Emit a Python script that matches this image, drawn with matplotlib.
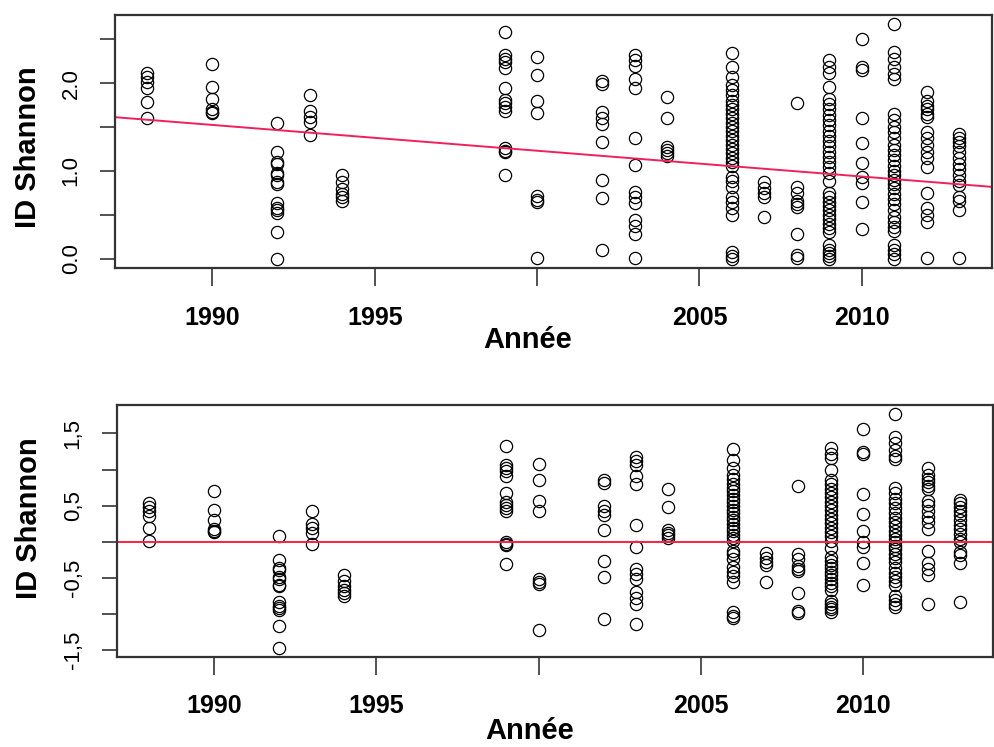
import numpy as np
import matplotlib
matplotlib.use("Agg")
import matplotlib.pyplot as plt

plt.rcParams['font.family'] = ['Liberation Sans', 'DejaVu Sans']

# Shannon diversity index per year
years = [1988, 1990, 1992, 1993, 1994, 1999, 2000, 2002, 2003, 2004,
         2006, 2007, 2008, 2009, 2010, 2011, 2012, 2013]
shannon = [
    [2.12, 2.07, 2.01, 1.94, 1.78, 1.60],
    [2.22, 1.96, 1.82, 1.70, 1.67, 1.66],
    [1.55, 1.21, 1.10, 1.08, 0.98, 0.95, 0.87, 0.85, 0.63, 0.58, 0.55, 0.52, 0.30, 0.0],
    [1.86, 1.68, 1.62, 1.56, 1.41],
    [0.95, 0.87, 0.79, 0.74, 0.70, 0.66],
    [2.58, 2.32, 2.28, 2.24, 2.17, 1.94, 1.81, 1.77, 1.73, 1.68, 1.26, 1.23, 1.21, 0.95],
    [2.30, 2.09, 1.80, 1.66, 0.71, 0.67, 0.64, 0.01],
    [2.02, 1.99, 1.67, 1.60, 1.54, 1.33, 0.90, 0.69, 0.10],
    [2.32, 2.26, 2.20, 2.05, 1.94, 1.38, 1.07, 0.76, 0.70, 0.63, 0.44, 0.37, 0.28, 0.01],
    [1.84, 1.60, 1.27, 1.24, 1.20, 1.17],
    [2.34, 2.18, 2.07, 1.98, 1.92, 1.86, 1.80, 1.75, 1.70, 1.65, 1.60, 1.55, 1.50, 1.45,
     1.40, 1.35, 1.30, 1.25, 1.20, 1.15, 1.10, 1.06, 0.93, 0.88, 0.82, 0.70, 0.64, 0.58,
     0.50, 0.08, 0.03, 0.0],
    [0.87, 0.80, 0.75, 0.70, 0.47],
    [1.77, 0.82, 0.75, 0.66, 0.62, 0.59, 0.28, 0.04, 0.01],
    [2.26, 2.18, 2.12, 1.96, 1.82, 1.76, 1.70, 1.64, 1.58, 1.52, 1.46, 1.40, 1.34, 1.28,
     1.22, 1.16, 1.10, 1.04, 0.98, 0.88, 0.75, 0.70, 0.65, 0.60, 0.55, 0.50, 0.45, 0.40,
     0.35, 0.30, 0.15, 0.10, 0.06, 0.03, 0.0],
    [2.50, 2.18, 2.15, 1.60, 1.32, 1.09, 0.93, 0.86, 0.64, 0.34],
    [2.67, 2.35, 2.27, 2.18, 2.10, 2.05, 1.65, 1.58, 1.50, 1.44, 1.38, 1.30, 1.24, 1.18,
     1.12, 1.06, 1.00, 0.95, 0.90, 0.85, 0.80, 0.74, 0.68, 0.62, 0.55, 0.48, 0.42, 0.36,
     0.31, 0.15, 0.10, 0.05, 0.0],
    [1.90, 1.80, 1.74, 1.70, 1.65, 1.61, 1.44, 1.38, 1.30, 1.22, 1.15, 1.05, 0.75, 0.58,
     0.50, 0.42, 0.01],
    [1.42, 1.38, 1.33, 1.28, 1.22, 1.15, 1.08, 1.02, 0.95, 0.88, 0.84, 0.70, 0.66, 0.55, 0.01],
]

# regression line (value at 2000 and slope per year)
fitAt2000 = 1.23
fitSlope = -0.0294

xTicks = [1990, 1995, 2000, 2005, 2010]
xTickLabels = ['1990', '1995', '', '2005', '2010']
topYTicks = [0.0, 0.5, 1.0, 1.5, 2.0, 2.5]
topYTickLabels = ['0.0', '', '1.0', '', '2.0', '']
botYTicks = [-1.5, -1.0, -0.5, 0.0, 0.5, 1.0, 1.5]
botYTickLabels = ['-1,5', '', '-0,5', '', '0,5', '', '1,5']

xs = np.concatenate([[yr] * len(v) for yr, v in zip(years, shannon)])
ys = np.concatenate(shannon)
fitted = fitAt2000 + fitSlope * (xs - 2000)
resid = ys - fitted


def style_panel(ax, yTicks, yTickLabels, labelY):
    ax.margins(0.04)
    for s in ax.spines.values():
        s.set_linewidth(1.6)
        s.set_color('#333333')
    ax.set_xticks(xTicks)
    ax.set_xticklabels(xTickLabels, fontsize=18, fontweight='bold')
    ax.set_yticks(yTicks)
    ax.set_yticklabels(yTickLabels, fontsize=16)
    ax.tick_params(axis='x', length=13, width=1.2, pad=14, color='#333333')
    ax.tick_params(axis='y', length=11, width=1.2, pad=13, color='#333333', labelrotation=90)
    for lbl in ax.get_yticklabels():
        lbl.set_va('center')
    ax.set_xlabel('Année', fontsize=21, fontweight='bold')
    ax.set_ylabel('ID Shannon', fontsize=21, fontweight='bold')
    ax.xaxis.label.set_va('center')
    ax.yaxis.label.set_va('center')
    ax.xaxis.set_label_coords(0.471, labelY)
    ax.yaxis.set_label_coords(-0.099, 0.5)


fig = plt.figure(figsize=(9.94, 7.47), dpi=100)
ax1 = fig.add_axes([0.1157, 0.6412, 0.882, 0.3387])
ax2 = fig.add_axes([0.1177, 0.1205, 0.881, 0.3373])

ax1.plot(xs, ys, 'o', mfc='none', mec='black', ms=8.8, mew=0.9)
style_panel(ax1, topYTicks, topYTickLabels, -0.285)
ax1.yaxis.set_label_coords(-0.099, 0.478)
ax1.axline((2000, fitAt2000), slope=fitSlope, color='#f0205a', lw=1.4)

ax2.plot(xs, resid, 'o', mfc='none', mec='black', ms=8.8, mew=0.9)
style_panel(ax2, botYTicks, botYTickLabels, -0.292)
ax2.yaxis.set_label_coords(-0.101, 0.552)
ax2.axhline(0, color='#ff2040', lw=1.4)

fig.savefig('out.png', dpi=100)
